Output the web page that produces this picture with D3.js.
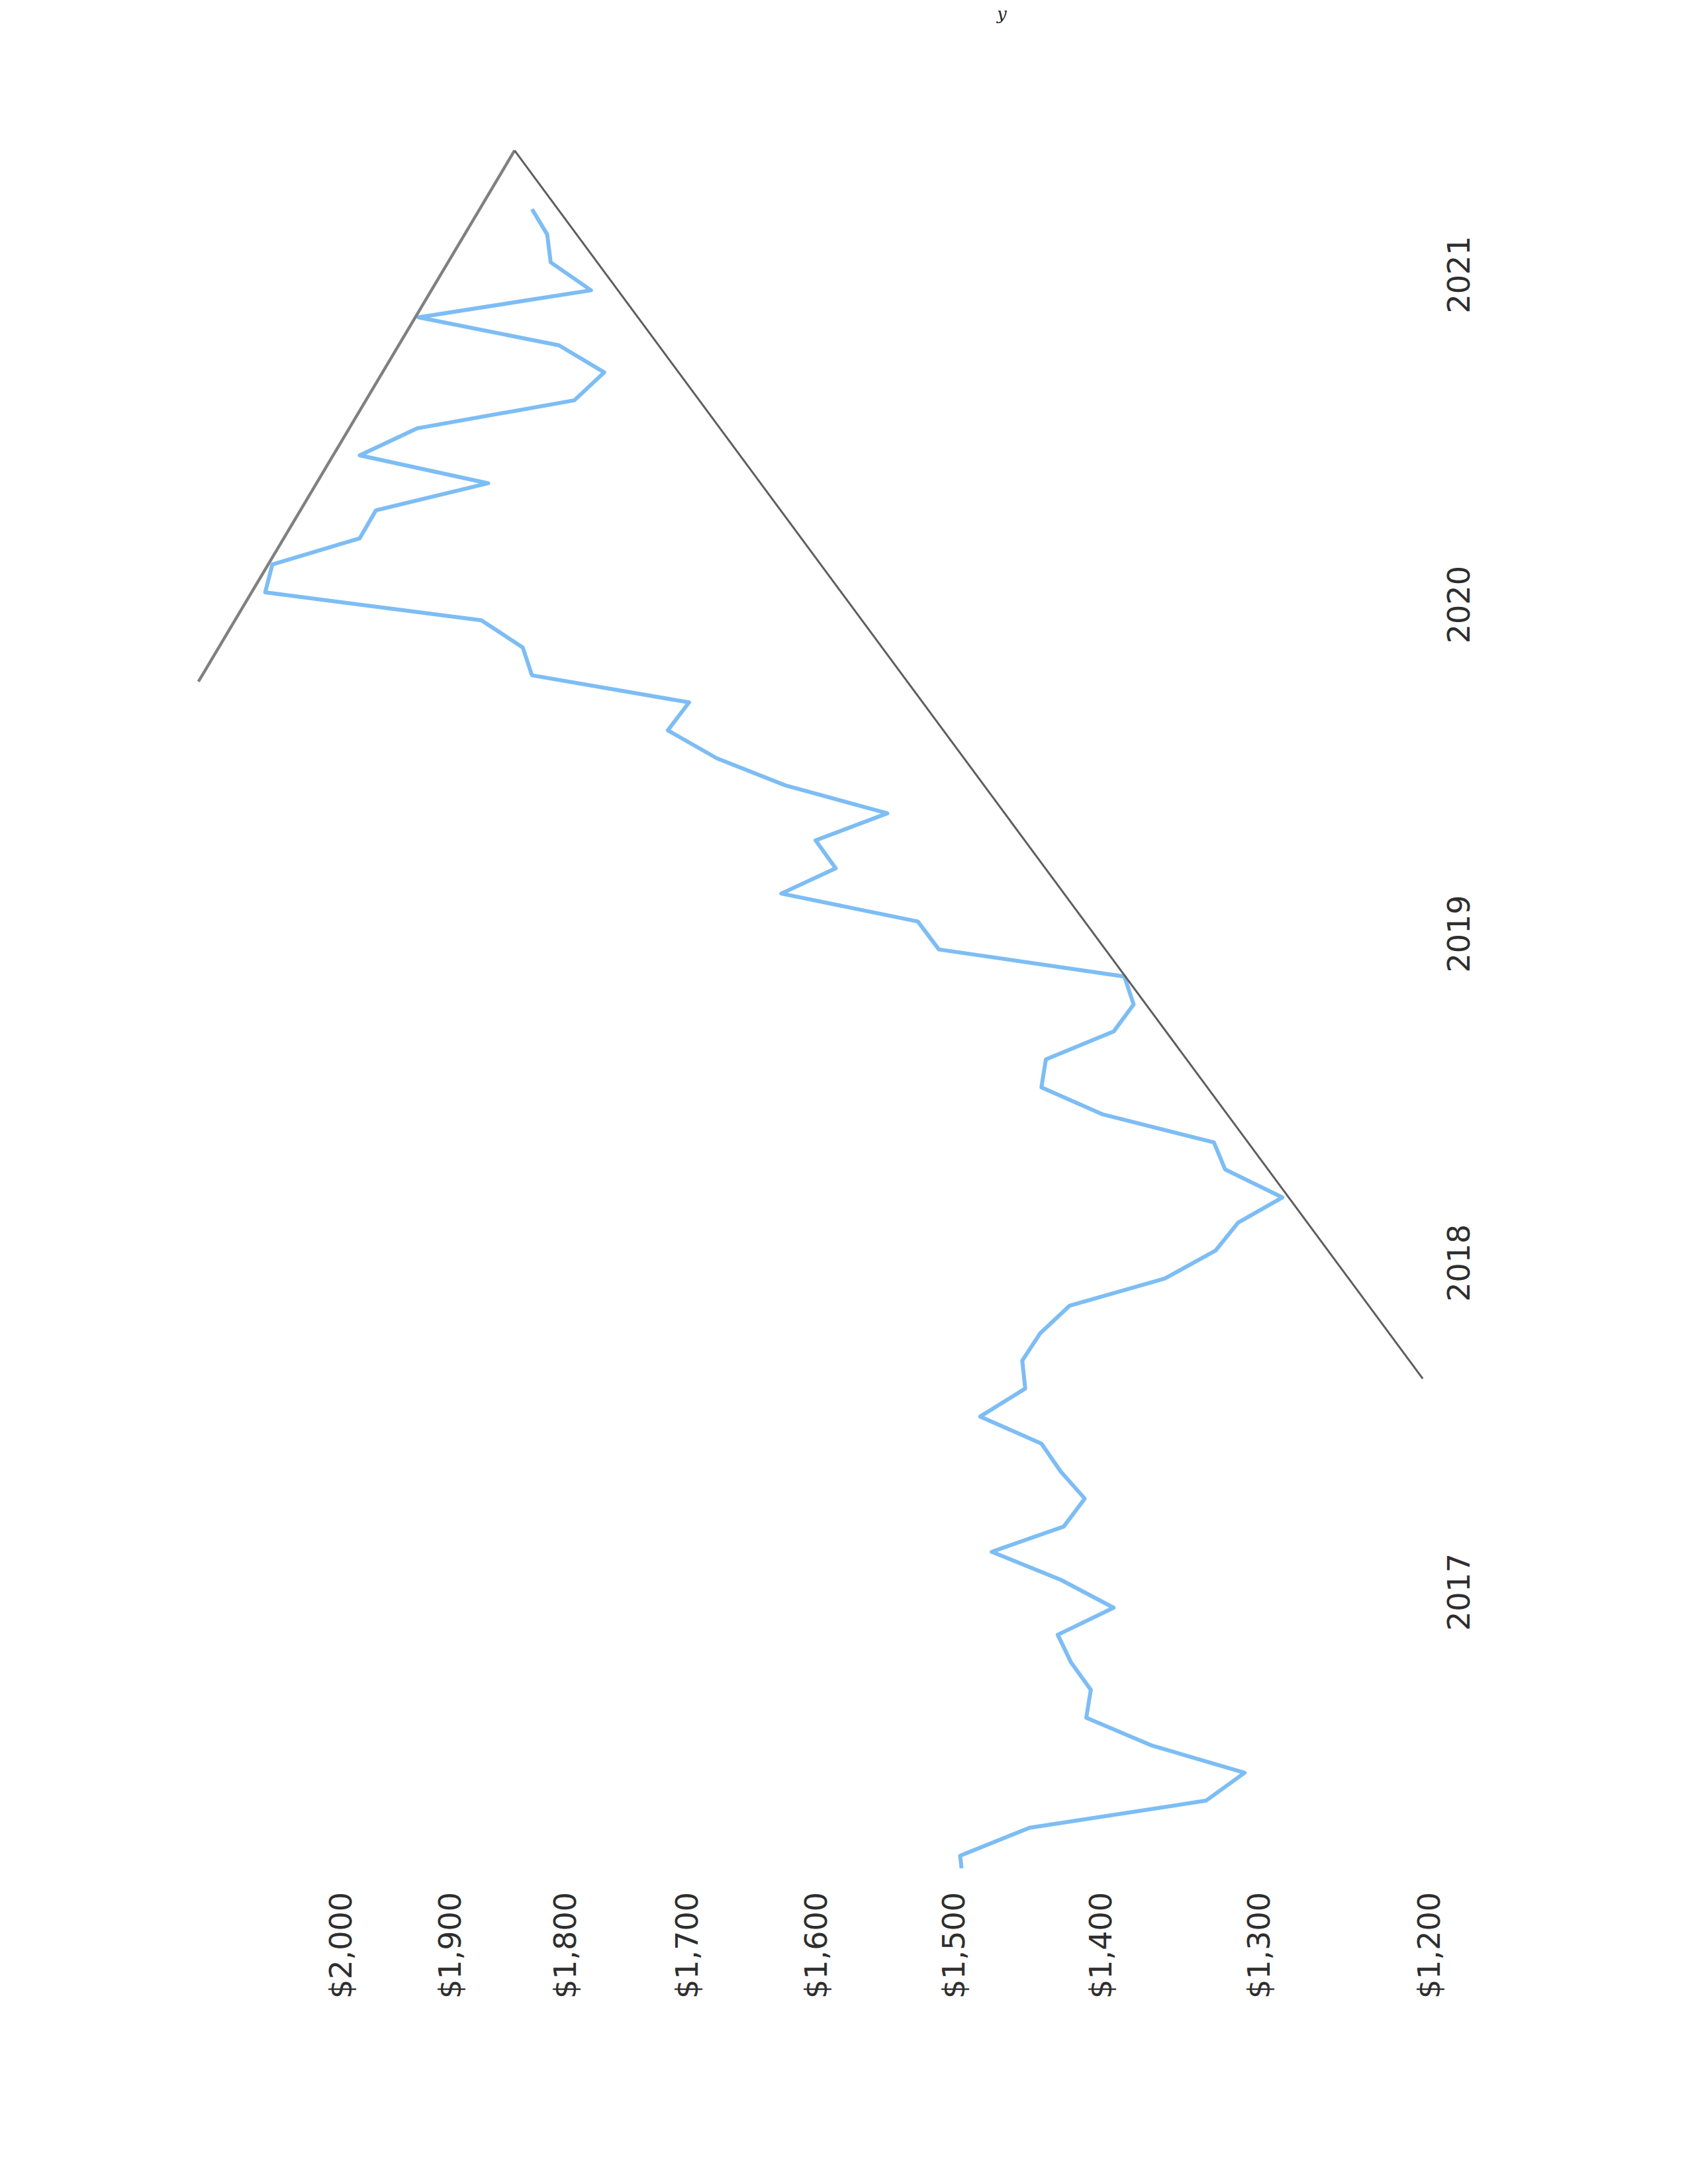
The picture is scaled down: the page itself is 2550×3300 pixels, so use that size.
<!DOCTYPE html>
<html>
<head>
<meta charset="utf-8">
<script src="https://cdn.jsdelivr.net/npm/d3@7"></script>
<style>
    body { margin: 0; background: #fff; }
    svg { display: block; }
</style>
</head>
<body>
<div id="graph"></div>
<script>
// monthly closes, first point is the series start
const dates = [
    '2016-03-01', '2016-03-15', '2016-04-15', '2016-05-15', '2016-06-15', '2016-07-15',
    '2016-08-15', '2016-09-15', '2016-10-15', '2016-11-15', '2016-12-15',
    '2017-01-15', '2017-02-15', '2017-03-15', '2017-04-15', '2017-05-15', '2017-06-15',
    '2017-07-15', '2017-08-15', '2017-09-15', '2017-10-15', '2017-11-15', '2017-12-15',
    '2018-01-15', '2018-02-15', '2018-03-15', '2018-04-15', '2018-05-15', '2018-06-15',
    '2018-07-15', '2018-08-15', '2018-09-15', '2018-10-15', '2018-11-15', '2018-12-15',
    '2019-01-15', '2019-02-15', '2019-03-15', '2019-04-15', '2019-05-15', '2019-06-15',
    '2019-07-15', '2019-08-15', '2019-09-15', '2019-10-15', '2019-11-15', '2019-12-15',
    '2020-01-15', '2020-02-15', '2020-03-15', '2020-04-15', '2020-05-15', '2020-06-15',
    '2020-07-15', '2020-08-15', '2020-09-15', '2020-10-15', '2020-11-15', '2020-12-15',
    '2021-01-15', '2021-02-15', '2021-03-15'
];
const prices = [
    1495, 1496, 1448, 1333, 1309, 1367, 1410, 1407, 1420, 1429,
    1392, 1427, 1474, 1425, 1411, 1427, 1440, 1482, 1451, 1453,
    1441, 1421, 1359, 1327, 1313, 1286, 1321, 1328, 1399, 1440,
    1437, 1392, 1379, 1385, 1511, 1526, 1627, 1586, 1601, 1548,
    1624, 1677, 1716, 1699, 1829, 1837, 1873, 2073, 2066, 1983,
    1968, 1867, 1983, 1930, 1793, 1768, 1806, 1929, 1779, 1813,
    1816, 1829
];
const valueTicks = [1200, 1300, 1400, 1500, 1600, 1700, 1800, 1900, 2000];

// hand drawn trend lines (date, price)
const upperTrend = [['2019-10-08', 2139], ['2021-05-19', 1844]];
const lowerTrend = [['2017-08-26', 1204], ['2021-05-19', 1844]];

const W = 2550;
const H = 3300;
const parse = d3.timeParse('%Y-%m-%d');
const data = dates.map((d, i) => ({ date: parse(d), price: prices[i] }));

const svg = d3.select('#graph')
    .append('svg')
    .attr('width', W)
    .attr('height', H)
    .style('background', '#fff');

// the printed chart sits sideways on the page
const chart = svg.append('g')
    .attr('transform', 'translate(0,' + H + ') rotate(-90)');

const xScale = d3.scaleTime()
    .domain([parse('2016-03-01'), parse('2021-03-15')])
    .range([477, 2984]);
const yScale = d3.scaleLog()
    .domain([1200, 2000])
    .range([2160, 516]);

const yAxis = d3.axisLeft(yScale)
    .tickValues(valueTicks)
    .tickFormat(d3.format('$,'))
    .tickSize(0)
    .tickPadding(19);
const xAxis = d3.axisBottom(xScale)
    .ticks(d3.timeYear.every(1))
    .tickFormat(d3.timeFormat('%Y'))
    .tickSize(0)
    .tickPadding(27);

const yG = chart.append('g')
    .attr('transform', 'translate(460,0)')
    .call(yAxis);
const xG = chart.append('g')
    .attr('transform', 'translate(0,2160)')
    .call(xAxis);

[yG, xG].forEach(g => {
    g.select('.domain').remove();
    g.selectAll('text')
        .style('font-family', '"DejaVu Sans", Verdana, sans-serif')
        .style('font-size', '46px')
        .style('fill', '#2e2e2e');
});

const line = d3.line()
    .x(d => xScale(d.date))
    .y(d => yScale(d.price));

chart.append('path')
    .datum(data)
    .attr('d', line)
    .attr('fill', 'none')
    .attr('stroke', '#7dbdf4')
    .attr('stroke-width', 6)
    .attr('stroke-linejoin', 'round');

const trendLine = d3.line()
    .x(d => xScale(parse(d[0])))
    .y(d => yScale(d[1]));

chart.append('path')
    .datum(upperTrend)
    .attr('d', trendLine)
    .attr('fill', 'none')
    .attr('stroke', '#808080')
    .attr('stroke-width', 4.5);
chart.append('path')
    .datum(lowerTrend)
    .attr('d', trendLine)
    .attr('fill', 'none')
    .attr('stroke', '#5e5e5e')
    .attr('stroke-width', 3);

// stray letter at the top of the scan
svg.append('text')
    .attr('x', 1506)
    .attr('y', 30)
    .style('font-family', '"DejaVu Serif", serif')
    .style('font-style', 'italic')
    .style('font-size', '26px')
    .style('fill', '#222')
    .text('y');
</script>
</body>
</html>
